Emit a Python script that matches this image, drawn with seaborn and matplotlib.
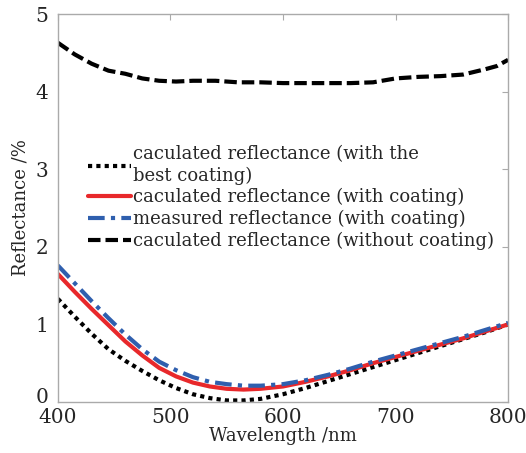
import numpy as np
import pandas as pd
import seaborn as sns
import matplotlib.pyplot as plt
import matplotlib.transforms as mtransforms

# longitudes de onda comunes (nm)
longitud = [400, 415, 430, 445, 460, 475, 490, 505, 520, 535, 550, 565,
            580, 600, 620, 640, 660, 680, 700, 720, 740, 760, 780, 800]

mejor_recubrimiento = [1.33, 1.10, 0.88, 0.68, 0.53, 0.40, 0.28, 0.18, 0.10, 0.05, 0.02, 0.02,
                       0.04, 0.10, 0.18, 0.27, 0.36, 0.45, 0.54, 0.63, 0.72, 0.81, 0.90, 1.00]
calc_recubrimiento = [1.65, 1.42, 1.20, 0.99, 0.78, 0.60, 0.44, 0.33, 0.25, 0.20, 0.17, 0.16,
                      0.17, 0.20, 0.26, 0.33, 0.41, 0.50, 0.58, 0.66, 0.74, 0.82, 0.91, 1.00]
medido_recubrimiento = [1.76, 1.53, 1.30, 1.08, 0.87, 0.68, 0.52, 0.41, 0.32, 0.26, 0.23, 0.21,
                        0.21, 0.23, 0.28, 0.35, 0.43, 0.52, 0.60, 0.68, 0.76, 0.84, 0.93, 1.02]

longitud_sin = [400, 415, 430, 445, 460, 475, 490, 505, 520, 540, 560, 580,
                600, 620, 640, 660, 680, 700, 720, 740, 760, 780, 790, 800]
sin_recubrimiento = [4.63, 4.48, 4.36, 4.27, 4.23, 4.17, 4.14, 4.13, 4.14, 4.14, 4.12, 4.12,
                     4.11, 4.11, 4.11, 4.11, 4.12, 4.17, 4.19, 4.20, 4.22, 4.29, 4.33, 4.41]

etiquetas = ["caculated reflectance (with the\nbest coating)",
             "caculated reflectance (with coating)",
             "measured reflectance (with coating)",
             "caculated reflectance (without coating)"]

sns.set_style("white")
plt.rcParams['font.family'] = ['DejaVu Serif']
plt.rcParams['mathtext.fontset'] = 'dejavuserif'

fig = plt.figure(figsize=(5.26, 4.53), dpi=100)
ax = fig.add_axes([0.110, 0.1126, 0.856, 0.8564])

sns.lineplot(x=longitud, y=mejor_recubrimiento, ax=ax, color='black',
             linestyle=(0, (1, 1)), linewidth=3, label=etiquetas[0])
sns.lineplot(x=longitud, y=calc_recubrimiento, ax=ax, color='#e8282b',
             linewidth=3, label=etiquetas[1])
sns.lineplot(x=longitud, y=medido_recubrimiento, ax=ax, color='#2f5fae',
             linestyle=(0, (4, 1.5, 1, 1.5)), linewidth=3, label=etiquetas[2])
sns.lineplot(x=longitud_sin, y=sin_recubrimiento, ax=ax, color='black',
             linestyle=(0, (3, 1.2)), linewidth=3, label=etiquetas[3])

ax.set_xlim(400, 800)
ax.set_ylim(0, 5)
ax.set_xticks([400, 500, 600, 700, 800])
ax.set_yticks([0, 1, 2, 3, 4, 5])
ax.set_xlabel("Wavelength /nm", fontsize=13, labelpad=0)
ax.set_ylabel("Reflectance /%", fontsize=13, labelpad=4)
ax.tick_params(axis='both', direction='in', length=4, color='#aaaaaa',
               labelsize=14.5, top=True, right=True)
ax.tick_params(axis='x', pad=4)
ax.tick_params(axis='y', pad=7)
for s in ax.spines.values():
    s.set_color('#aaaaaa')
    s.set_linewidth(1)

# subir un poco la etiqueta "0" para que no pise a "400"
fig.canvas.draw()
etiqueta_cero = ax.get_yticklabels()[0]
etiqueta_cero.set_transform(etiqueta_cero.get_transform() +
                            mtransforms.ScaledTranslation(0, 5 / 72, fig.dpi_scale_trans))

ax.legend(loc='upper left', bbox_to_anchor=(0.05, 0.68), frameon=False,
          fontsize=13, handlelength=2.4, handletextpad=0.1,
          labelspacing=0.2, borderaxespad=0)

fig.savefig("out.png", dpi=100)
